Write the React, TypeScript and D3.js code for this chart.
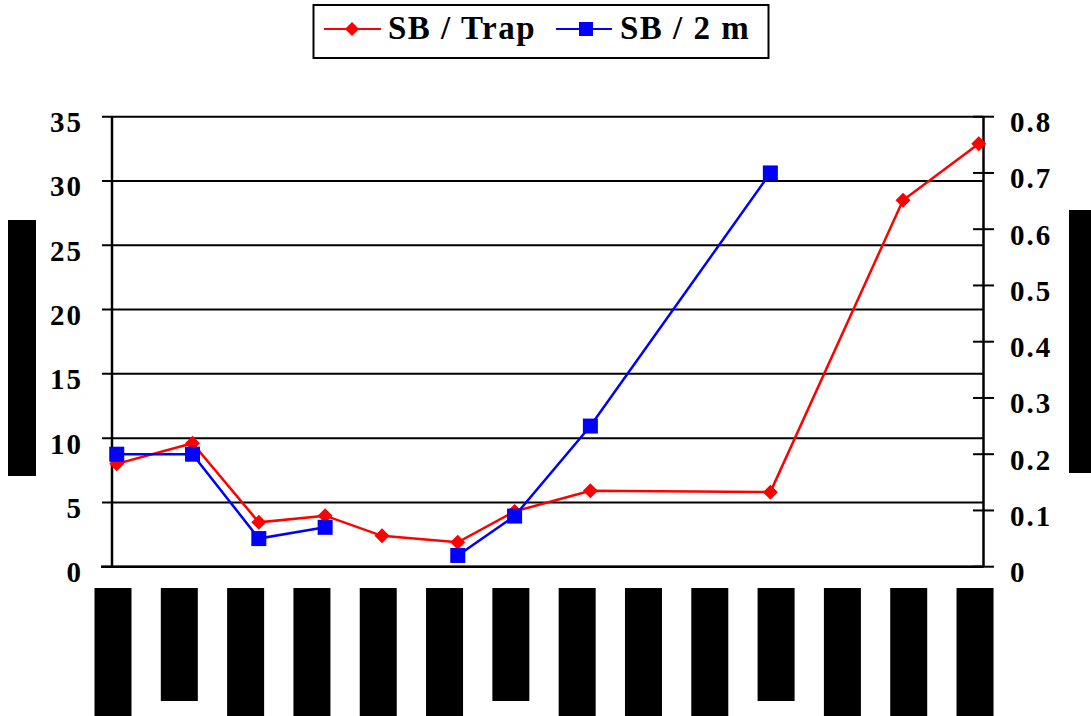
import React from "react";
import * as d3 from "d3";

// ---- data ----
const xDays = [0.5, 8.5, 15.5, 22.5, 28.5, 36.5, 42.5, 50.5, 69.5, 83.5, 91.5];
const sbTrap = [8.0, 9.6, 3.45, 3.97, 2.4, 1.9, 4.3, 5.9, 5.8, 28.5, 32.9];
const sb2m: (number | null)[] = [0.2, 0.2, 0.05, 0.07, null, 0.02, 0.09, 0.25, 0.7, null, null];
const leftTicks = [0, 5, 10, 15, 20, 25, 30, 35];
const rightTicks = [0, 0.1, 0.2, 0.3, 0.4, 0.5, 0.6, 0.7, 0.8];
const xTicks = [0, 7, 14, 21, 28, 35, 42, 49, 56, 63, 70, 77, 84, 91];
// redacted tick labels: true = long label, false = short label
const xTickLong = [true, false, true, true, true, true, false, true, true, true, false, true, true, true];
const seriesNames = ["SB / Trap", "SB / 2 m"];

const W = 1091;
const H = 716;
const FONT = "'Liberation Serif', 'Times New Roman', serif";

export default function App() {
  const x = d3.scaleLinear().domain([0, 92]).range([112, 983.5]);
  const yL = d3.scaleLinear().domain([0, 35]).range([566.7, 116.7]);
  const yR = d3.scaleLinear().domain([0, 0.8]).range([566.7, 116.7]);

  const redLine = d3
    .line<number>()
    .x((_, i) => x(xDays[i]))
    .y((d) => yL(d))(sbTrap) as string;

  const blueLine = d3
    .line<number | null>()
    .defined((d) => d != null)
    .x((_, i) => x(xDays[i]))
    .y((d) => yR(d as number))(sb2m) as string;

  const diamond = (cx: number, cy: number, r: number) =>
    `M${cx},${cy - r}L${cx + r},${cy}L${cx},${cy + r}L${cx - r},${cy}Z`;

  const x0 = x(0);
  const x1 = x(92);

  return (
    <svg
      width={W}
      height={H}
      style={{ position: "absolute", left: 0, top: 0, background: "#fff" }}
      fontFamily={FONT}
    >
      <rect x={0} y={0} width={W} height={H} fill="#fff" />
      {/* legend */}
      <rect x={313.5} y={5} width={455} height={53} fill="#fff" stroke="#000" strokeWidth={2} />
      <line x1={324} x2={381} y1={29} y2={29} stroke="#ff0000" strokeWidth={2} />
      <path d={diamond(352, 29, 7)} fill="#ff0000" />
      <text x={388} y={38.5} fontSize={33} fontWeight="bold" letterSpacing={1.5} fill="#000">
        {seriesNames[0]}
      </text>
      <line x1={556} x2={612} y1={29} y2={29} stroke="#0000ff" strokeWidth={2} />
      <rect x={579} y={22} width={14} height={14} fill="#0000ff" />
      <text x={620} y={38.5} fontSize={33} fontWeight="bold" letterSpacing={1.5} fill="#000">
        {seriesNames[1]}
      </text>

      {/* gridlines + left ticks */}
      {leftTicks.map((t) => (
        <line key={"g" + t} x1={102} x2={x1} y1={yL(t)} y2={yL(t)} stroke="#000" strokeWidth={2} />
      ))}
      {leftTicks.map((t) => (
        <text
          key={"lt" + t}
          x={83}
          y={yL(t) + 15.5}
          textAnchor="end"
          fontSize={29}
          fontWeight="bold"
          letterSpacing={2}
          fill="#000"
        >
          {t}
        </text>
      ))}
      {/* right ticks */}
      {rightTicks.map((t) => (
        <line key={"rt" + t} x1={973} x2={994} y1={yR(t)} y2={yR(t)} stroke="#000" strokeWidth={2} />
      ))}
      {rightTicks.map((t) => (
        <text
          key={"rl" + t}
          x={1010}
          y={yR(t) + 15.5}
          fontSize={29}
          fontWeight="bold"
          letterSpacing={2}
          fill="#000"
        >
          {t === 0 ? "0" : d3.format(".1f")(t)}
        </text>
      ))}
      {/* axes */}
      <line x1={x0} x2={x0} y1={yL(35)} y2={yL(0)} stroke="#000" strokeWidth={2.5} />
      <line x1={x1} x2={x1} y1={yR(0.8)} y2={yR(0)} stroke="#000" strokeWidth={2.5} />
      <line x1={101} x2={x1} y1={yL(0)} y2={yL(0)} stroke="#000" strokeWidth={2.5} />

      {/* redacted x tick labels */}
      {xTicks.map((t, i) => (
        <rect
          key={"xl" + t}
          x={x(t) - 17.5}
          y={588}
          width={37}
          height={xTickLong[i] ? 130 : 113}
          fill="#000"
        />
      ))}
      {/* redacted axis titles */}
      <rect x={8} y={220} width={28} height={256} fill="#000" />
      <rect x={1069} y={210} width={22} height={263} fill="#000" />

      {/* series */}
      <path d={redLine} fill="none" stroke="#ff0000" strokeWidth={2.5} />
      {sbTrap.map((v, i) => (
        <path key={"r" + i} d={diamond(x(xDays[i]), yL(v), 7.5)} fill="#ff0000" />
      ))}
      <path d={blueLine} fill="none" stroke="#0000ff" strokeWidth={2.5} />
      {sb2m.map((v, i) =>
        v == null ? null : (
          <rect
            key={"b" + i}
            x={x(xDays[i]) - 7.5}
            y={yR(v) - 7.5}
            width={15}
            height={15}
            fill="#0000ff"
          />
        )
      )}
    </svg>
  );
}
